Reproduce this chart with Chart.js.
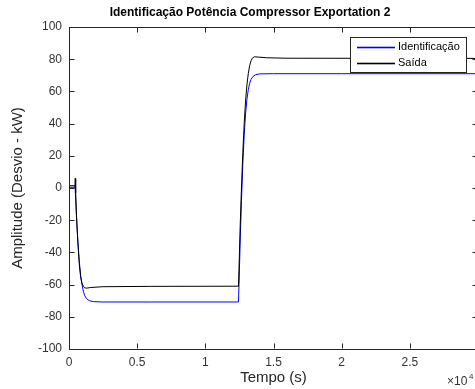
<!DOCTYPE html>
<html>
<head>
<meta charset="utf-8">
<script src="https://cdn.jsdelivr.net/npm/chart.js@4.4.0/dist/chart.umd.min.js"></script>
<style>
  html, body { margin: 0; padding: 0; overflow: hidden; background: #fff; }
</style>
</head>
<body>
<canvas id="grafico" width="500" height="389"></canvas>
<script>
// tempo em unidades de 10^4 s
const tempoIdent = [0, 0.044, 0.048, 0.055, 0.065, 0.075, 0.085, 0.095, 0.105, 0.115,
  0.13, 0.15, 0.18, 0.25, 0.6, 1.243, 1.247, 1.255, 1.265, 1.275, 1.285, 1.295, 1.305,
  1.315, 1.325, 1.335, 1.35, 1.37, 1.40, 1.5, 2.0, 3.0];
const identificacao = [1.5, 1.5, -5, -18, -33, -45, -54, -60, -64, -66.8,
  -68.8, -70, -70.6, -70.8, -70.8, -70.8, -60, -35, -8, 15, 33, 46, 55,
  61, 65, 67.5, 69.3, 70.4, 70.9, 71, 71, 71];

const tempoSaida = [0, 0.044, 0.046, 0.049, 0.055, 0.065, 0.075, 0.085, 0.095, 0.105,
  0.115, 0.13, 0.16, 0.25, 0.6, 1.243, 1.247, 1.255, 1.265, 1.275, 1.285, 1.295, 1.305,
  1.315, 1.325, 1.335, 1.345, 1.36, 1.39, 1.45, 1.6, 3.0];
const saida = [0.5, 0.5, 6, -3, -17, -34, -47, -55, -59, -61,
  -62, -62.2, -61.8, -61.3, -61.1, -61, -50, -25, 0, 22, 40, 54, 64,
  71, 76, 79, 80.7, 81.5, 81.3, 80.9, 80.6, 80.5];

const xTicks = [0, 0.5, 1, 1.5, 2, 2.5, 3];
const yTicks = [-100, -80, -60, -40, -20, 0, 20, 40, 60, 80, 100];

const fonte = "'Liberation Sans', Arial, Helvetica, sans-serif";
const corEixo = '#262626';
const corIdent = 'rgb(0, 0, 255)';
const corSaida = 'rgb(0, 0, 0)';

function pares(xs, ys) {
  return xs.map((x, i) => ({ x: x, y: ys[i] }));
}

// caixa do eixo (topo e direita) + ticks para dentro, estilo MATLAB
const moldura = {
  id: 'moldura',
  afterDatasetsDraw(chart) {
    const ctx = chart.ctx;
    const a = chart.chartArea;
    const sx = chart.scales.x, sy = chart.scales.y;
    const tl = 5;
    ctx.save();
    ctx.strokeStyle = corEixo;
    ctx.lineWidth = 1;
    ctx.beginPath();
    const top = Math.round(a.top) + 0.5, bot = Math.round(a.bottom) - 0.5;
    const esq = Math.round(a.left) + 0.5, dir = Math.round(a.right) - 0.5;
    ctx.moveTo(esq, top); ctx.lineTo(dir, top); ctx.lineTo(dir, bot);
    sx.ticks.forEach(t => {
      const px = Math.round(sx.getPixelForValue(t.value)) + 0.5;
      ctx.moveTo(px, bot); ctx.lineTo(px, bot - tl);
      ctx.moveTo(px, top); ctx.lineTo(px, top + tl);
    });
    sy.ticks.forEach(t => {
      const py = Math.round(sy.getPixelForValue(t.value)) + 0.5;
      ctx.moveTo(esq, py); ctx.lineTo(esq + tl, py);
      ctx.moveTo(dir, py); ctx.lineTo(dir - tl, py);
    });
    ctx.stroke();
    ctx.restore();
  },
  afterDraw(chart) {
    const ctx = chart.ctx;
    const a = chart.chartArea;
    ctx.save();
    // título
    ctx.fillStyle = '#000';
    ctx.font = 'bold 12px ' + fonte;
    ctx.textAlign = 'center';
    ctx.textBaseline = 'middle';
    ctx.fillText('Identificação Potência Compressor Exportation 2', chart.width / 2, 13);

    // legenda
    const lx = a.right - 128, ly = a.top + 10, lw = 116, lh = 35;
    ctx.fillStyle = '#fff';
    ctx.fillRect(lx, ly, lw, lh);
    ctx.strokeStyle = corEixo;
    ctx.lineWidth = 1;
    ctx.strokeRect(lx + 0.5, ly + 0.5, lw, lh);
    ctx.font = '11px ' + fonte;
    ctx.textAlign = 'left';
    chart.data.datasets.forEach((ds, i) => {
      const y = ly + 10 + i * 15.5;
      const amostra = chart.getDatasetMeta(i).dataset.options.borderColor;
      ctx.fillStyle = amostra;
      ctx.fillRect(lx + 7, Math.round(y) - 0.3, 38, 1.6);
      ctx.fillStyle = '#000';
      ctx.fillText(ds.label, lx + 48, y);
    });

    // multiplicador do eixo x
    ctx.fillStyle = '#333';
    ctx.font = '12px ' + fonte;
    ctx.textAlign = 'left';
    ctx.textBaseline = 'alphabetic';
    ctx.fillText('\u00d710', a.right - 31, a.bottom + 36);
    ctx.font = '8px ' + fonte;
    ctx.fillText('4', a.right - 9, a.bottom + 30);
    ctx.restore();
  }
};

new Chart(document.getElementById('grafico'), {
  type: 'line',
  data: {
    datasets: [
      {
        label: 'Identificação',
        data: pares(tempoIdent, identificacao),
        borderColor: corIdent,
        borderWidth: 1,
        pointRadius: 0,
        fill: false,
        tension: 0,
        order: 1
      },
      {
        label: 'Saída',
        data: pares(tempoSaida, saida),
        borderColor: corSaida,
        borderWidth: 1,
        pointRadius: 0,
        fill: false,
        tension: 0,
        order: 0
      }
    ]
  },
  options: {
    responsive: false,
    animation: false,
    layout: { padding: { top: 27, right: 22, bottom: 0, left: 0 } },
    plugins: {
      legend: { display: false },
      title: { display: false },
      tooltip: { enabled: false }
    },
    scales: {
      x: {
        type: 'linear',
        min: 0,
        max: 3,
        afterBuildTicks: s => { s.ticks = xTicks.map(v => ({ value: v })); },
        afterFit: s => { s.height = 40; },
        grid: { display: false, drawTicks: false },
        border: { display: true, color: corEixo, width: 1 },
        ticks: {
          padding: 6, color: '#333', autoSkip: false, maxRotation: 0,
          font: { family: fonte, size: 12 },
          callback: v => String(v)
        },
        title: {
          display: true, text: 'Tempo (s)', color: '#262626',
          font: { family: fonte, size: 15 }, padding: { top: 0, bottom: 2 }
        }
      },
      y: {
        type: 'linear',
        min: -100,
        max: 100,
        afterBuildTicks: s => { s.ticks = yTicks.map(v => ({ value: v })); },
        afterFit: s => { s.width = 69; },
        grid: { display: false, drawTicks: false },
        border: { display: true, color: corEixo, width: 1 },
        ticks: {
          padding: 7, color: '#333', autoSkip: false,
          font: { family: fonte, size: 12 },
          callback: v => String(v)
        },
        title: {
          display: true, text: 'Amplitude (Desvio - kW)', color: '#262626',
          font: { family: fonte, size: 15 }, padding: { top: 9, bottom: 0 }
        }
      }
    }
  },
  plugins: [moldura]
});
</script>
</body>
</html>
